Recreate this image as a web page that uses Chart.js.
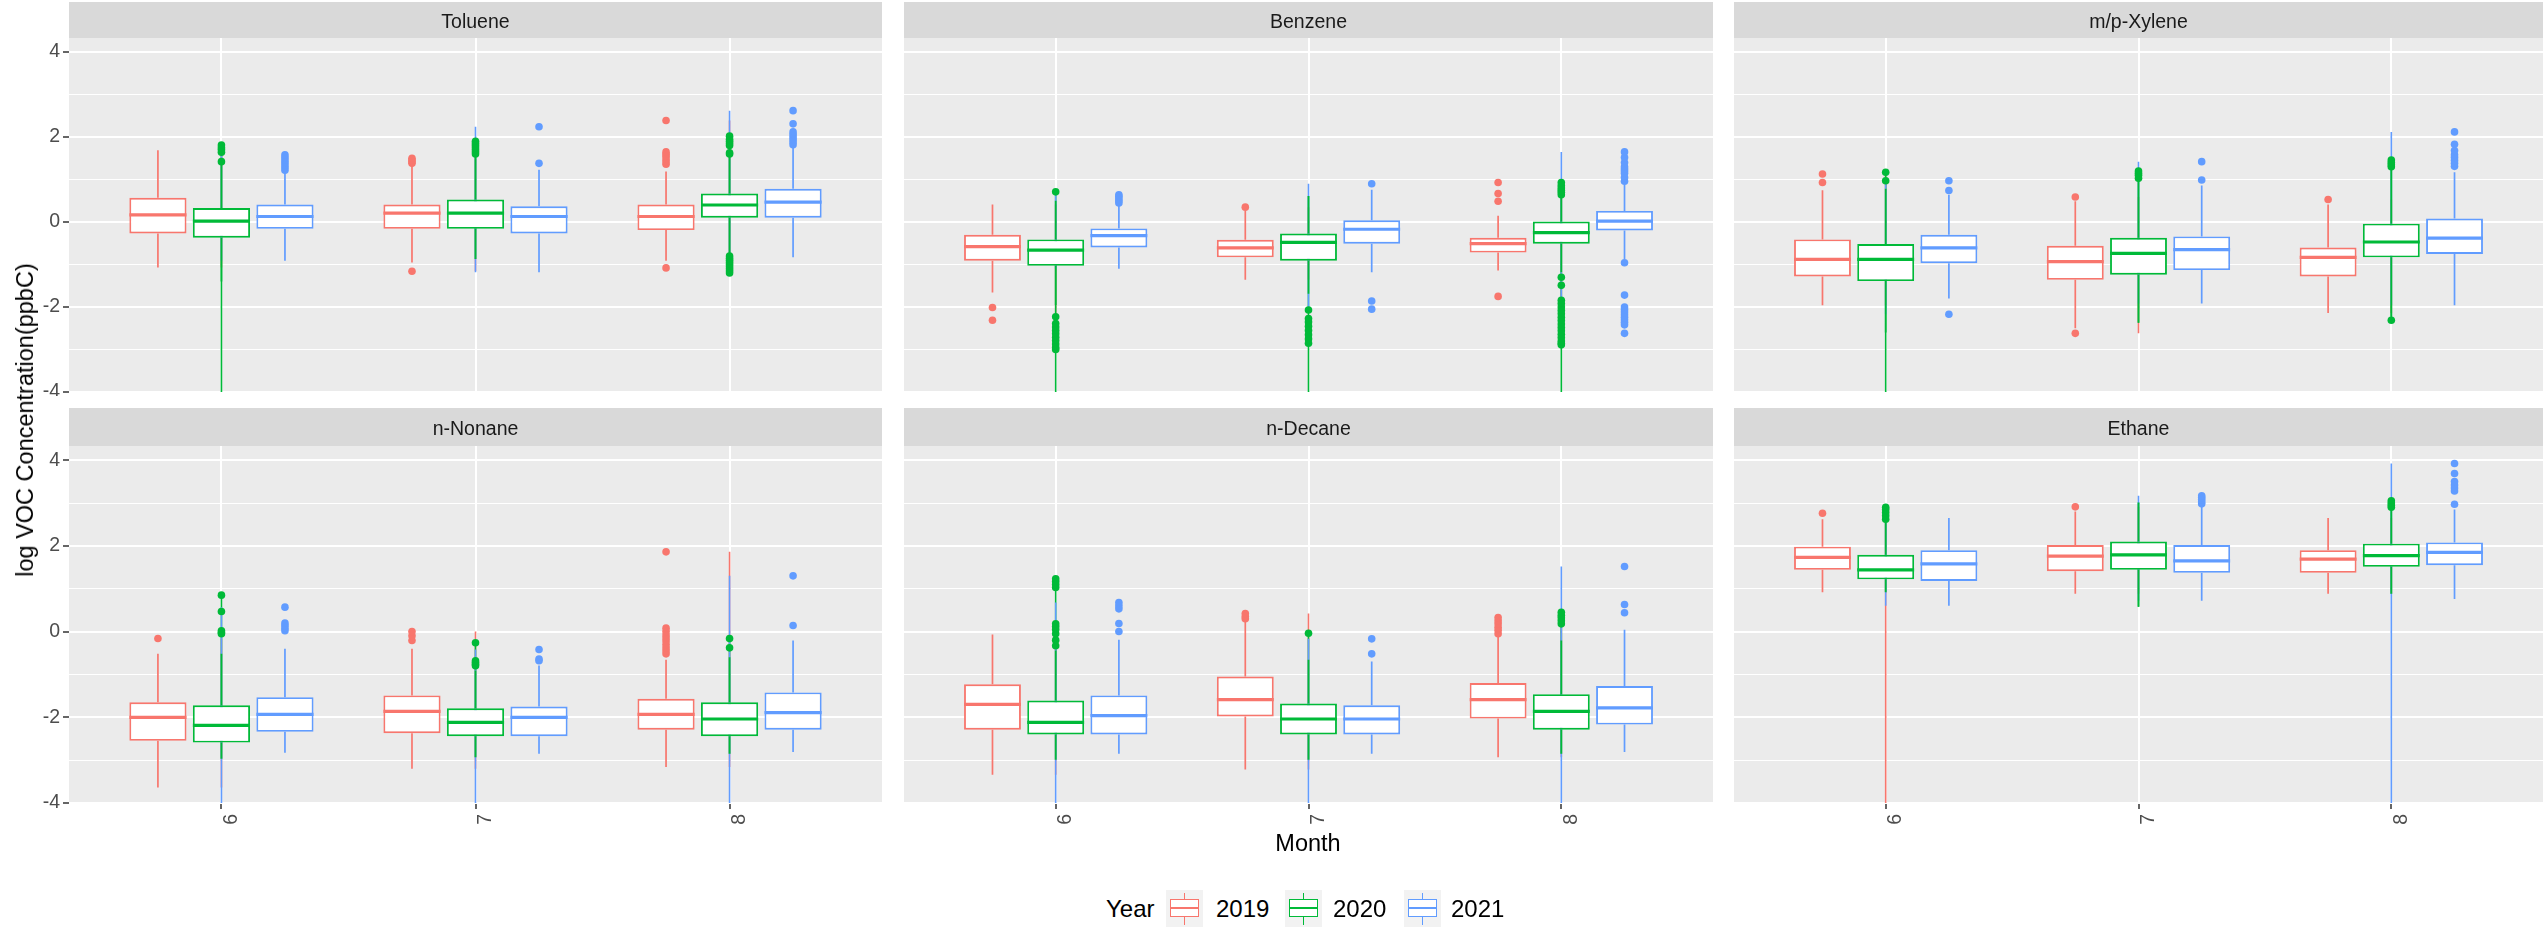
<!DOCTYPE html>
<html><head><meta charset="utf-8">
<script src="https://cdn.jsdelivr.net/npm/chart.js@4.4.1/dist/chart.umd.min.js"></script>
<style>
html,body{margin:0;padding:0;background:#fff;}
#root{position:relative;width:2547px;height:932px;overflow:hidden;font-family:'Liberation Sans',Arial,sans-serif;}
#root canvas{position:absolute;}
.txt{position:absolute;white-space:nowrap;color:#000;line-height:30px;height:30px;}
.key{position:absolute;width:37px;height:37px;background:#F2F2F2;}
.key div{position:absolute;box-sizing:border-box;}
</style></head><body><div id="root"></div>
<script>
// ---------------- data ----------------
const compounds = ['Toluene', 'Benzene', 'm/p-Xylene', 'n-Nonane', 'n-Decane', 'Ethane'];
const months = ['6', '7', '8'];
const years = ['2019', '2020', '2021'];
const yTickValues = [-4, -3, -2, -1, 0, 1, 2, 3, 4];
const yTickLabels = ['-4', '', '-2', '', '0', '', '2', '', '4'];

// every stat array: [compound][year][month]
const whiskerLow = [
  [[-1.07, -0.95, -0.91], [-1.40, -0.87, -0.75], [-0.91, -1.18, -0.83]],
  [[-1.66, -1.36, -1.14], [-1.95, -1.69, -1.18], [-1.10, -1.18, -0.87]],
  [[-1.96, -2.50, -2.14], [-2.60, -2.37, -2.23], [-1.80, -1.92, -1.96]],
  [[-3.64, -3.20, -3.16], [-2.97, -2.93, -2.85], [-2.83, -2.85, -2.81]],
  [[-3.34, -3.22, -2.93], [-2.99, -2.99, -2.85], [-2.85, -2.85, -2.81]],
  [[0.92, 0.88, 0.88], [0.92, 0.58, 0.88], [0.60, 0.72, 0.76]]
];
const boxQ1 = [
  [[-0.27, -0.16, -0.19], [-0.37, -0.16, 0.10], [-0.16, -0.27, 0.10]],
  [[-0.91, -0.83, -0.72], [-1.03, -0.91, -0.51], [-0.60, -0.51, -0.20]],
  [[-1.28, -1.36, -1.28], [-1.39, -1.24, -0.83], [-0.97, -1.13, -0.75]],
  [[-2.55, -2.37, -2.29], [-2.59, -2.44, -2.44], [-2.34, -2.44, -2.29]],
  [[-2.29, -1.98, -2.03], [-2.40, -2.40, -2.29], [-2.40, -2.40, -2.17]],
  [[1.44, 1.41, 1.37], [1.22, 1.44, 1.51], [1.18, 1.37, 1.55]]
];
const boxMedian = [
  [[0.17, 0.21, 0.13], [0.02, 0.21, 0.40], [0.13, 0.13, 0.47]],
  [[-0.58, -0.61, -0.51], [-0.66, -0.48, -0.25], [-0.32, -0.17, 0.02]],
  [[-0.88, -0.93, -0.83], [-0.88, -0.74, -0.47], [-0.61, -0.65, -0.38]],
  [[-2.00, -1.86, -1.93], [-2.19, -2.12, -2.04], [-1.93, -2.00, -1.89]],
  [[-1.70, -1.59, -1.59], [-2.12, -2.04, -1.86], [-1.96, -2.04, -1.78]],
  [[1.73, 1.76, 1.69], [1.44, 1.79, 1.77], [1.58, 1.65, 1.85]]
];
const boxQ3 = [
  [[0.57, 0.41, 0.41], [0.33, 0.53, 0.67], [0.41, 0.37, 0.78]],
  [[-0.30, -0.42, -0.37], [-0.41, -0.27, 0.01], [-0.15, 0.04, 0.26]],
  [[-0.41, -0.56, -0.60], [-0.52, -0.37, -0.04], [-0.30, -0.34, 0.08]],
  [[-1.65, -1.49, -1.57], [-1.72, -1.79, -1.65], [-1.53, -1.75, -1.42]],
  [[-1.23, -1.05, -1.20], [-1.61, -1.68, -1.46], [-1.49, -1.72, -1.27]],
  [[1.98, 2.02, 1.90], [1.79, 2.10, 2.05], [1.90, 2.02, 2.08]]
];
const whiskerHigh = [
  [[1.69, 1.34, 1.19], [1.38, 1.55, 1.55], [1.19, 1.23, 1.77]],
  [[0.41, 0.26, 0.15], [0.50, 0.61, 0.62], [0.41, 0.76, 0.88]],
  [[0.75, 0.49, 0.41], [0.78, 0.99, 1.27], [0.64, 0.86, 1.17]],
  [[-0.52, -0.40, -0.66], [-0.52, -0.91, -0.60], [-0.40, -0.79, -0.21]],
  [[-0.07, 0.26, -0.09], [-0.44, -0.66, -0.21], [-0.19, -0.70, 0.04]],
  [[2.62, 2.80, 2.65], [2.55, 3.01, 2.86], [2.65, 2.94, 2.85]]
];
const outliers = [
  [[[], [1.38, 1.42, 1.46, 1.50, -1.16], [1.36, 1.42, 1.48, 1.55, 1.60, 1.65, 2.39, -1.08]],
   [[1.42, 1.64, 1.70, 1.75, 1.81], [1.60, 1.65, 1.70, 1.75, 1.80, 1.85, 1.90], [1.60, 1.63, 1.80, 1.85, 1.90, 1.95, 2.02, -0.80, -0.85, -0.90, -0.95, -1.00, -1.05, -1.10, -1.15, -1.20]],
   [[1.22, 1.28, 1.34, 1.40, 1.46, 1.52, 1.58], [1.38, 2.24], [1.82, 1.88, 1.94, 2.00, 2.06, 2.12, 2.31, 2.62]]],
  [[[-2.01, -2.31], [0.35], [0.49, 0.67, 0.93, -1.75]],
   [[0.71, -2.23, -2.39, -2.47, -2.55, -2.63, -2.71, -2.79, -2.87, -2.95, -3.00], [-2.07, -2.27, -2.35, -2.45, -2.55, -2.65, -2.75, -2.85], [0.64, 0.70, 0.75, 0.80, 0.86, 0.93, -1.30, -1.49, -1.84, -1.92, -2.00, -2.08, -2.16, -2.24, -2.32, -2.40, -2.48, -2.56, -2.64, -2.72, -2.80, -2.85, -2.89]],
   [[0.45, 0.50, 0.55, 0.60, 0.64], [0.90, -1.86, -2.05], [0.96, 1.05, 1.15, 1.20, 1.25, 1.30, 1.40, 1.52, 1.65, -0.96, -1.72, -2.00, -2.06, -2.12, -2.18, -2.24, -2.30, -2.36, -2.42, -2.62]]],
  [[[0.93, 1.13], [0.59, -2.62], [0.53]],
   [[0.97, 1.17], [1.03, 1.10, 1.15, 1.20], [1.30, 1.35, 1.40, 1.46, -2.31]],
   [[0.74, 0.97, -2.17], [0.99, 1.42], [1.31, 1.38, 1.45, 1.52, 1.58, 1.68, 1.83, 2.12]]],
  [[[-0.16], [-0.21, -0.10, 0.00], [-0.52, -0.45, -0.38, -0.30, -0.22, -0.15, -0.08, 0.00, 0.08, 1.86]],
   [[-0.05, -0.02, 0.02, 0.47, 0.85], [-0.68, -0.72, -0.76, -0.80, -0.26], [-0.38, -0.16]],
   [[0.02, 0.08, 0.14, 0.20, 0.57], [-0.68, -0.64, -0.42], [0.14, 1.30]]],
  [[[], [0.30, 0.35, 0.42], [-0.05, 0.03, 0.10, 0.18, 0.25, 0.33]],
   [[-0.33, -0.20, -0.05, 0.05, 0.12, 0.18, 1.03, 1.10, 1.17, 1.23], [-0.04], [0.18, 0.25, 0.32, 0.38, 0.45]],
   [[0.00, 0.19, 0.53, 0.60, 0.68], [-0.52, -0.17], [0.44, 0.63, 1.52]]],
  [[[2.76], [2.91], []],
   [[2.62, 2.70, 2.78, 2.85, 2.90], [], [2.90, 2.95, 3.00, 3.05]],
   [[], [2.98, 3.03, 3.08, 3.13, 3.17], [2.97, 3.28, 3.35, 3.42, 3.50, 3.69, 3.92]]]
];
// full data extent per group (values below the axis floor are clipped)
const rangeLow = [
  [[-1.07, -1.16, -1.08], [-5, -0.87, -1.20], [-0.91, -1.18, -0.83]],
  [[-2.31, -1.36, -1.75], [-5, -5, -5], [-1.10, -2.05, -2.62]],
  [[-1.96, -2.62, -2.14], [-5, -2.37, -2.31], [-2.17, -1.92, -1.96]],
  [[-3.64, -3.20, -3.16], [-2.97, -2.93, -2.85], [-5, -5, -5]],
  [[-3.34, -3.22, -2.93], [-2.99, -2.99, -2.85], [-5, -5, -5]],
  [[-5, 0.88, 0.88], [0.92, 0.58, 0.88], [0.60, 0.72, -5]]
];
const rangeHigh = [
  [[1.69, 1.50, 2.39], [1.81, 1.90, 2.02], [1.58, 2.24, 2.62]],
  [[0.41, 0.35, 0.93], [0.71, 0.61, 0.93], [0.64, 0.90, 1.65]],
  [[1.13, 0.59, 0.53], [1.17, 1.20, 1.46], [0.97, 1.42, 2.12]],
  [[-0.16, 0.00, 1.86], [0.85, -0.26, -0.16], [0.57, -0.42, 1.30]],
  [[-0.07, 0.42, 0.33], [1.23, -0.04, 0.45], [0.68, -0.17, 1.52]],
  [[2.76, 2.91, 2.65], [2.90, 3.01, 3.05], [2.65, 3.17, 3.92]]
];

// ---------------- styling / layout ----------------
const COLORS = ['#F8766D', '#00BA38', '#619CFF'];
const DODGE = [-0.25, 0, 0.25];
const HALF_BOX = 0.1125;
const PANEL_LEFT = [69, 900, 1730];
const PANEL_W = 817;
const ROW_TOP = [2, 408];
const STRIP_H = [36, 38];
const PLOT_H = [358, 357];
const XAXIS_H = [0, 34];
const Y_MIN = -4.0, Y_MAX = 4.33;
const FONT = "'Liberation Sans', Arial, sans-serif";

Chart.defaults.font.family = FONT;

const panelBg = {
  id: 'panelBg',
  beforeDraw(chart) {
    const {ctx, chartArea: a} = chart;
    ctx.save();
    ctx.fillStyle = '#D9D9D9';
    ctx.fillRect(a.left, 0, a.right - a.left, a.top);
    ctx.fillStyle = '#EBEBEB';
    ctx.fillRect(a.left, a.top, a.right - a.left, a.bottom - a.top);
    ctx.restore();
  }
};

function zeroPad(s) { s.paddingTop = 0; s.paddingBottom = 0; s.paddingLeft = 0; s.paddingRight = 0; }

function buildDatasets(p) {
  const ds = [];
  years.forEach((yr, y) => {
    const art = [], whisk = [], box = [], med = [], pts = [];
    months.forEach((m, i) => {
      const cx = i + 1;
      const bx = cx + DODGE[y];
      art.push({x: cx, y: rangeLow[p][y][i]}, {x: cx, y: rangeHigh[p][y][i]}, {x: cx, y: null});
      whisk.push({x: bx, y: whiskerLow[p][y][i]}, {x: bx, y: boxQ1[p][y][i]}, {x: bx, y: null},
                 {x: bx, y: boxQ3[p][y][i]}, {x: bx, y: whiskerHigh[p][y][i]}, {x: bx, y: null});
      box.push({x: bx, y: [boxQ1[p][y][i], boxQ3[p][y][i]]});
      med.push({x: bx - HALF_BOX, y: boxMedian[p][y][i]}, {x: bx + HALF_BOX, y: boxMedian[p][y][i]}, {x: bx, y: null});
      outliers[p][y][i].forEach(v => pts.push({x: bx, y: v}));
    });
    ds.push({type: 'line', label: yr + ' range', data: art, borderColor: COLORS[y], borderWidth: 1.6,
             pointRadius: 0, spanGaps: false, order: 60 - y, borderCapStyle: 'butt'});
    ds.push({type: 'line', label: yr + ' whiskers', data: whisk, borderColor: COLORS[y], borderWidth: 1.7,
             pointRadius: 0, spanGaps: false, order: 40, borderCapStyle: 'butt'});
    ds.push({type: 'bar', label: yr, data: box, backgroundColor: '#FFFFFF', borderColor: COLORS[y],
             borderWidth: 1.9, borderSkipped: false, grouped: false, barPercentage: 0.9,
             categoryPercentage: 1, order: 30});
    ds.push({type: 'line', label: yr + ' median', data: med, borderColor: COLORS[y], borderWidth: 3.2,
             pointRadius: 0, spanGaps: false, order: 20, borderCapStyle: 'butt'});
    ds.push({type: 'scatter', label: yr + ' outliers', data: pts, backgroundColor: COLORS[y],
             pointBackgroundColor: COLORS[y], pointBorderWidth: 0, pointRadius: 3.8, showLine: false, order: 10});
  });
  return ds;
}

const root = document.getElementById('root');

compounds.forEach((name, p) => {
  const row = Math.floor(p / 3), col = p % 3;
  const yAxisW = col === 0 ? PANEL_LEFT[0] : 0;
  const left = col === 0 ? 0 : PANEL_LEFT[col];
  const w = yAxisW + PANEL_W;
  const h = STRIP_H[row] + PLOT_H[row] + XAXIS_H[row];
  const cv = document.createElement('canvas');
  cv.width = w; cv.height = h;
  cv.style.left = left + 'px'; cv.style.top = ROW_TOP[row] + 'px';
  cv.style.width = w + 'px'; cv.style.height = h + 'px';
  root.appendChild(cv);
  const padTop = row === 0 ? 9 : 10;
  new Chart(cv, {
    type: 'bar',
    data: {datasets: buildDatasets(p)},
    options: {
      responsive: false, animation: false, events: [],
      devicePixelRatio: 1,
      layout: {padding: 0},
      plugins: {
        legend: {display: false},
        tooltip: {enabled: false},
        title: {
          display: true, text: name, fullSize: false, color: '#1A1A1A',
          font: {size: 19.5, weight: 'normal', lineHeight: 1.2, family: FONT},
          padding: {top: padTop, bottom: STRIP_H[row] - 23.4 - padTop}
        }
      },
      scales: {
        x: {
          type: 'linear', min: 0.4, max: 3.6, offset: false,
          afterBuildTicks: s => { s.ticks = months.map((m, i) => ({value: i + 1})); },
          afterFit: s => { s.height = XAXIS_H[row]; zeroPad(s); },
          ticks: {
            display: row === 1, minRotation: 90, maxRotation: 90, autoSkip: false,
            labelOffset: 10, padding: 5, color: '#4D4D4D',
            font: {size: 19.5, family: FONT},
            callback: v => months[Math.round(v) - 1]
          },
          grid: {color: '#FFFFFF', lineWidth: 2, offset: false, drawTicks: row === 1, tickLength: 6,
                 tickColor: '#333333', tickWidth: 1.5},
          border: {display: false}
        },
        y: {
          type: 'linear', min: Y_MIN, max: Y_MAX,
          afterBuildTicks: s => { s.ticks = yTickValues.map(v => ({value: v})); },
          afterFit: s => { s.width = yAxisW; zeroPad(s); },
          ticks: {
            display: col === 0, padding: 3, color: '#4D4D4D',
            font: {size: 19.5, family: FONT},
            callback: v => yTickLabels[yTickValues.indexOf(Math.round(v))]
          },
          grid: {
            color: '#FFFFFF',
            lineWidth: c => (c.tick && Math.abs(c.tick.value % 2) === 1 ? 1 : 2),
            drawTicks: col === 0, tickLength: 6, tickWidth: 1.5,
            tickColor: c => (c.tick && Math.abs(c.tick.value % 2) === 1 ? 'rgba(0,0,0,0)' : '#333333')
          },
          border: {display: false}
        }
      }
    },
    plugins: [panelBg]
  });
});

// ---------------- axis titles & legend (HTML text) ----------------
function addText(text, x, yCenter, size, extra) {
  const d = document.createElement('div');
  d.className = 'txt';
  d.textContent = text;
  d.style.fontSize = size + 'px';
  d.style.left = x + 'px';
  d.style.top = (yCenter - 15) + 'px';
  if (extra) Object.assign(d.style, extra);
  root.appendChild(d);
  return d;
}
addText('log VOC Concentration(ppbC)', 25, 420, 23.5,
  {transform: 'translate(-50%, 0) rotate(-90deg)', transformOrigin: '50% 50%'});
addText('Month', 1308, 843, 23.5, {transform: 'translate(-50%, 0)'});

addText('Year', 1106, 909, 24);
const keyLeft = [1166, 1285, 1404];
const labelLeft = [1216, 1333, 1451];
years.forEach((yr, y) => {
  const k = document.createElement('div');
  k.className = 'key';
  k.style.left = keyLeft[y] + 'px';
  k.style.top = '890px';
  const c = COLORS[y];
  k.innerHTML =
    `<div style="left:17.5px;top:3px;width:1.6px;height:32px;background:${c}"></div>` +
    `<div style="left:4px;top:9px;width:29px;height:18px;background:#fff;border:1.8px solid ${c}"></div>` +
    `<div style="left:4px;top:17.2px;width:29px;height:1.8px;background:${c}"></div>`;
  root.appendChild(k);
  addText(yr, labelLeft[y], 909, 24);
});
</script>
</body></html>
